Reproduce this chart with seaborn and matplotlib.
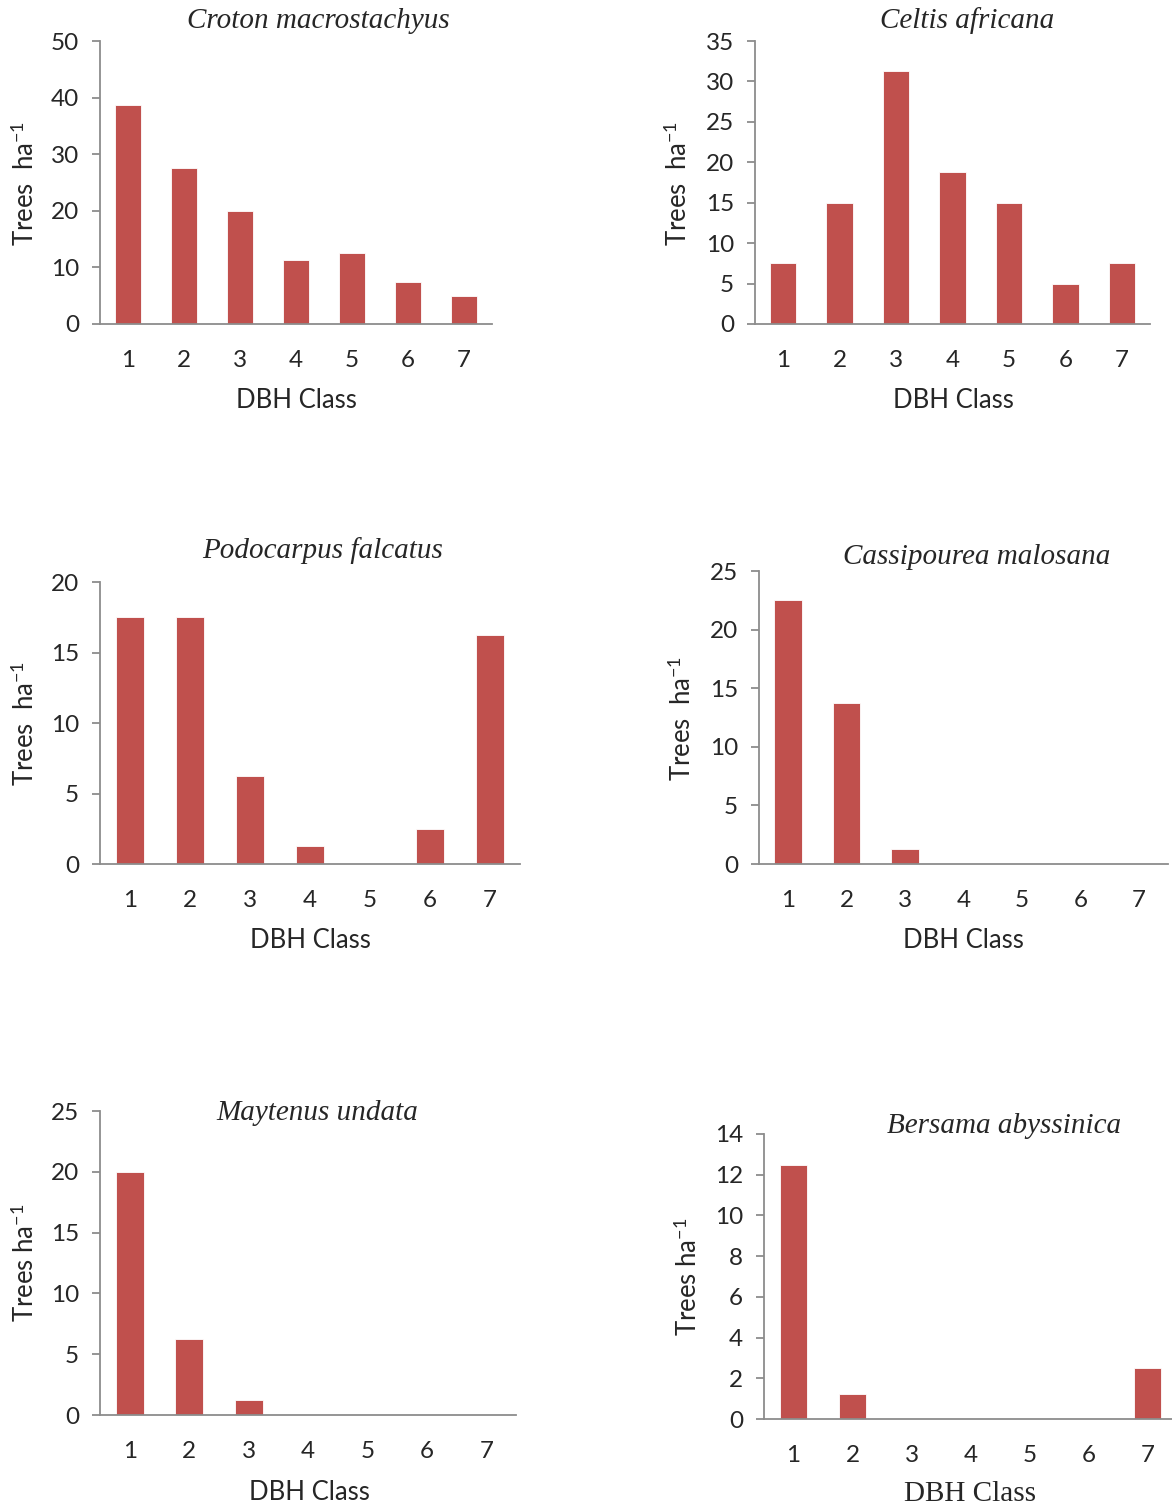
import matplotlib
matplotlib.use("Agg")
import matplotlib.pyplot as plt
import seaborn as sns

# DBH class densities (trees per hectare) for each species
dbh_classes = ["1", "2", "3", "4", "5", "6", "7"]
croton = [38.75, 27.5, 20, 11.25, 12.5, 7.5, 5]
celtis = [7.5, 15, 31.25, 18.75, 15, 5, 7.5]
podocarpus = [17.5, 17.5, 6.25, 1.25, 0, 2.5, 16.25]
cassipourea = [22.5, 13.75, 1.25, 0, 0, 0, 0]
maytenus = [20, 6.25, 1.25, 0, 0, 0, 0]
bersama = [12.5, 1.25, 0, 0, 0, 0, 2.5]

species = ["Croton macrostachyus", "Celtis africana", "Podocarpus falcatus",
           "Cassipourea malosana", "Maytenus undata", "Bersama abyssinica"]
series = [croton, celtis, podocarpus, cassipourea, maytenus, bersama]
y_max = [50, 35, 20, 25, 25, 14]
y_step = [10, 5, 5, 5, 5, 2]

sns.set_theme(style="white")
plt.rcParams.update({
    "font.family": ["Lato", "DejaVu Sans"],
    "mathtext.fontset": "custom",
    "mathtext.rm": "Lato",
    "mathtext.it": "Lato:italic",
    "mathtext.bf": "Lato:bold",
})

W, H = 1172, 1508
fig = plt.figure(figsize=(W / 100, H / 100), dpi=100)

# axes boxes in pixels: left, right, top, bottom
boxes = [
    (100, 492, 41, 324),
    (755, 1150, 41, 324),
    (100, 520, 582, 864),
    (759, 1168, 571, 864),
    (100, 516, 1111, 1415),
    (764, 1177, 1134, 1419),
]
# title, ylabel and xlabel positions in pixels
title_pos = [(318, 21), (967, 21), (323, 551), (977, 557), (317, 1113), (1004, 1126)]
ylabel_pos = [(25, 183), (678, 183), (25, 723), (682, 718), (25, 1263), (688, 1277)]
xlabel_pos = [(296, 401), (953, 401), (310, 941), (963, 941), (309, 1492), (970, 1494)]
ylabel_txt = ["Trees  ha$^{-1}$", "Trees  ha$^{-1}$", "Trees  ha$^{-1}$",
              "Trees  ha$^{-1}$", "Trees ha$^{-1}$", "Trees ha$^{-1}$"]

bar_color = "#C0504D"
axis_color = "#8C8C8C"


def fx(x):
    return x / W


def fy(y):
    return 1 - y / H


for i, (name, vals) in enumerate(zip(species, series)):
    l, r, t, b = boxes[i]
    ax = fig.add_axes([fx(l), fy(b), (r - l) / W, (b - t) / H])
    sns.barplot(x=dbh_classes, y=vals, ax=ax, color=bar_color, width=0.47,
                saturation=1, edgecolor="white", linewidth=0.6)
    ax.set_xlim(-0.5, 6.5)
    ax.set_ylim(0, y_max[i])
    ax.set_yticks(range(0, y_max[i] + 1, y_step[i]))
    ax.set_xlabel("")
    ax.set_ylabel("")
    for side in ["top", "right"]:
        ax.spines[side].set_visible(False)
    for side in ["left", "bottom"]:
        ax.spines[side].set_color(axis_color)
        ax.spines[side].set_linewidth(1.3)
    ax.tick_params(axis="y", direction="out", length=6, width=1.3,
                   color=axis_color, labelsize=17.5, pad=9, left=True)
    ax.tick_params(axis="x", length=0, labelsize=17.5, pad=19)

    fig.text(fx(title_pos[i][0]), fy(title_pos[i][1]), name,
             family="Liberation Serif", style="italic", fontsize=21,
             ha="center", va="center")
    fig.text(fx(ylabel_pos[i][0]), fy(ylabel_pos[i][1]), ylabel_txt[i],
             fontsize=18.5, rotation=90, ha="center", va="center")
    if i == 5:
        fig.text(fx(xlabel_pos[i][0]), fy(xlabel_pos[i][1]), "DBH Class",
                 family="Liberation Serif", fontsize=21, ha="center", va="center")
    else:
        fig.text(fx(xlabel_pos[i][0]), fy(xlabel_pos[i][1]), "DBH Class",
                 fontsize=18.5, ha="center", va="center")

fig.savefig("out.png", dpi=100)
